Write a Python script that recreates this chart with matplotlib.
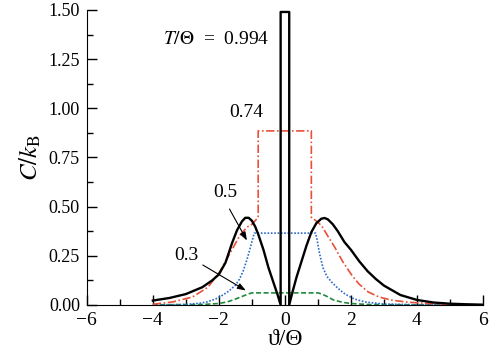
import numpy as np
import matplotlib
matplotlib.use('Agg')
import matplotlib.pyplot as plt
from matplotlib.ticker import MultipleLocator

plt.rcParams['font.family'] = ['Liberation Serif', 'DejaVu Serif']
plt.rcParams['mathtext.fontset'] = 'stix'

# T/Theta = 0.994 (black solid)
x_994 = [-4.0, -3.5, -3.0, -2.5, -2.2, -2.0, -1.8, -1.6, -1.45, -1.3, -1.2, -1.1,
         -1.0, -0.9, -0.8, -0.65, -0.5, -0.35, -0.22, -0.13, -0.13, 0.13, 0.13,
         0.22, 0.35, 0.5, 0.65, 0.8, 0.95, 1.1, 1.2, 1.3, 1.45, 1.6, 1.8, 2.0,
         2.25, 2.5, 2.75, 3.0, 3.5, 4.0, 4.5, 5.0, 5.5, 6.0]
y_994 = [0.022, 0.035, 0.055, 0.09, 0.125, 0.155, 0.215, 0.315, 0.38, 0.425, 0.443, 0.443,
         0.428, 0.398, 0.355, 0.28, 0.19, 0.115, 0.05, 0.0, 1.49, 1.49, 0.0,
         0.06, 0.14, 0.22, 0.30, 0.37, 0.415, 0.438, 0.442, 0.435, 0.41, 0.375, 0.32, 0.28,
         0.222, 0.172, 0.132, 0.098, 0.05, 0.025, 0.012, 0.006, 0.003, 0.001]

# T/Theta = 0.74 (red dash-dot)
x_74 = [-4.0, -3.4, -2.8, -2.33, -1.97, -1.67, -1.36, -1.15, -1.0, -0.81, -0.81,
        0.80, 0.80, 1.0, 1.12, 1.3, 1.52, 1.75, 2.03, 2.25, 2.52, 2.85, 3.24, 3.7, 4.24, 5.0, 6.0]
y_74 = [0.003, 0.015, 0.04, 0.09, 0.17, 0.26, 0.355, 0.395, 0.41, 0.445, 0.885,
        0.885, 0.445, 0.42, 0.40, 0.35, 0.29, 0.22, 0.15, 0.105, 0.066, 0.04, 0.024, 0.014, 0.008, 0.003, 0.0]

# T/Theta = 0.5 (blue dotted)
x_5 = [-4.0, -3.0, -2.6, -2.36, -2.1, -1.88, -1.7, -1.5, -1.38, -1.27, -1.15, -1.05, -0.97, -0.93,
       0.93, 0.97, 1.05, 1.15, 1.27, 1.42, 1.6, 1.82, 2.1, 2.42, 3.0, 4.0, 6.0]
y_5 = [0.0, 0.002, 0.008, 0.015, 0.03, 0.05, 0.07, 0.10, 0.13, 0.17, 0.23, 0.29, 0.34, 0.365,
       0.365, 0.335, 0.26, 0.19, 0.145, 0.115, 0.085, 0.055, 0.03, 0.015, 0.004, 0.001, 0.0]

# T/Theta = 0.3 (green dashed)
x_3 = [-4.0, -2.5, -2.0, -1.75, -1.57, -1.4, -1.25, -1.1, -1.0, 1.0, 1.1, 1.25, 1.47, 1.75, 2.0, 2.5, 4.0, 6.0]
y_3 = [0.0, 0.002, 0.007, 0.015, 0.025, 0.036, 0.046, 0.056, 0.061, 0.061, 0.056, 0.045, 0.025, 0.013, 0.007, 0.002, 0.0, 0.0]

fig = plt.figure(figsize=(4.99, 3.57), dpi=100)
ax = fig.add_axes([0.174, 0.146, 0.794, 0.826])

ax.plot(x_3, y_3, color='#1e8a3c', lw=1.2, ls=(0, (3, 1.5)))
ax.plot(x_5, y_5, color='#2a6cc8', lw=1.2, ls=(0, (1, 1)))
ax.plot(x_74, y_74, color='#e8503a', lw=1.2, ls=(0, (5, 1.5, 1, 1.5)))
ax.plot(x_994, y_994, color='black', lw=1.7)

ax.set_xlim(-6, 6)
ax.set_ylim(0, 1.5)
ax.xaxis.set_major_locator(MultipleLocator(2))
ax.xaxis.set_minor_locator(MultipleLocator(1))
ax.yaxis.set_major_locator(MultipleLocator(0.25))
ax.yaxis.set_minor_locator(MultipleLocator(0.125))
ax.xaxis.set_major_formatter(plt.FuncFormatter(lambda v, p: f'{v:.0f}'.replace('-', '\u2212')))
ax.yaxis.set_major_formatter(plt.FuncFormatter(lambda v, p: f'{v:.2f}'))
ax.tick_params(which='both', direction='in', width=1)
ax.tick_params(axis='x', labelsize=14, pad=5)
ax.tick_params(axis='y', labelsize=13, pad=5)
ax.tick_params(which='major', length=7)
ax.tick_params(which='minor', length=4)
ax.spines['top'].set_visible(False)
ax.spines['right'].set_visible(False)

ax.set_xlabel('\u03d1/\u0398', fontsize=17, labelpad=0)
ax.set_ylabel('$C/k_{\\mathrm{B}}$', fontsize=18, labelpad=4)

ax.text(-3.7, 1.35, '$T/\\Theta$  =  0.994', fontsize=14, va='center', ha='left')
ax.text(-1.18, 0.98, '0.74', fontsize=14, va='center', ha='center')
ax.text(-1.8, 0.57, '0.5', fontsize=14, va='center', ha='center')
ax.text(-3.0, 0.25, '0.3', fontsize=14, va='center', ha='center')

arrow = dict(arrowstyle='-|>,head_length=0.5,head_width=0.18', color='black', lw=0.8)
ax.annotate('', xy=(-1.11, 0.315), xytext=(-1.72, 0.50), arrowprops=arrow)
ax.annotate('', xy=(-1.11, 0.066), xytext=(-2.56, 0.21), arrowprops=arrow)

fig.savefig('out.png', dpi=100)
